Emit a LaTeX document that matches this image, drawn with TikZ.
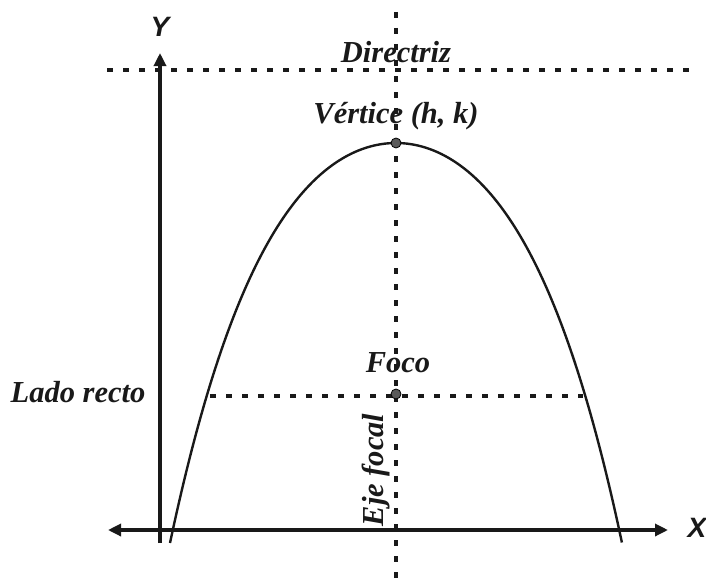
\documentclass[tikz,border=0pt]{standalone}
\usepackage{fontspec}
\setmainfont{Liberation Serif}
\newfontfamily\axfont{Liberation Sans}
\usetikzlibrary{arrows.meta}
\begin{document}
\begin{tikzpicture}[x=1pt,y=-1pt,
  dotline/.style={line width=3.2pt,dash pattern=on 6pt off 10pt,black!90},
  axisline/.style={line width=3.2pt,black!90,-{Triangle[length=13pt,width=12pt]}},
  curve/.style={line width=2.4pt,black!90},
  ptdot/.style={circle,draw=black,fill=black!65,line width=0.8pt,inner sep=0pt,minimum size=10pt},
  lbl/.style={font=\fontsize{30.5}{32}\selectfont\bfseries\itshape,text=black!90,inner sep=0pt},
  axlbl/.style={font=\axfont\fontsize{28}{30}\selectfont\bfseries\itshape,text=black!90,inner sep=0pt}]
\useasboundingbox (0,0) rectangle (706,578);
% reference coordinates
\coordinate (ftop) at (396,12);
\coordinate (fbot) at (396,578);
\coordinate (dl) at (107,70);
\coordinate (dr) at (695,70);
\coordinate (ll) at (210,396);
\coordinate (lr) at (583,396);
\coordinate (yb) at (160,543);
\coordinate (yt) at (160,53);
\coordinate (xl) at (108,530);
\coordinate (xr) at (668,530);
% dotted lines
\draw[dotline] (ftop) -- (fbot);
\draw[dotline] (dl) -- (dr);
\draw[dotline] (ll) -- (lr);
% parabola
\draw[curve] plot[domain=-2.26:2.26,samples=121,smooth]
  ({396+100*\x},{143+52.46*\x*\x+5.06*\x*\x*\x*\x});
% axes
\draw[axisline] (yb) -- (yt);
\draw[axisline,{Triangle[length=13pt,width=12pt]}-{Triangle[length=13pt,width=12pt]}] (xl) -- (xr);
% points
\node[ptdot] (vert) at (396,143) {};
\node[ptdot] (foc) at (396,394) {};
% labels
\node[axlbl] (ylab) at (160,27) {Y};
\node[axlbl] (xlab) at (697,528) {X};
\node[lbl] (dirlab) at (396,52) {Directriz};
\node[lbl] (vlab) at (396,116) {Vértice (h, k)};
\node[lbl] (flab) at (398,363) {Foco};
\node[lbl] (llab) at (78,392) {Lado recto};
\node[lbl,rotate=90] (elab) at (376,470) {Eje focal};
\end{tikzpicture}
\end{document}
